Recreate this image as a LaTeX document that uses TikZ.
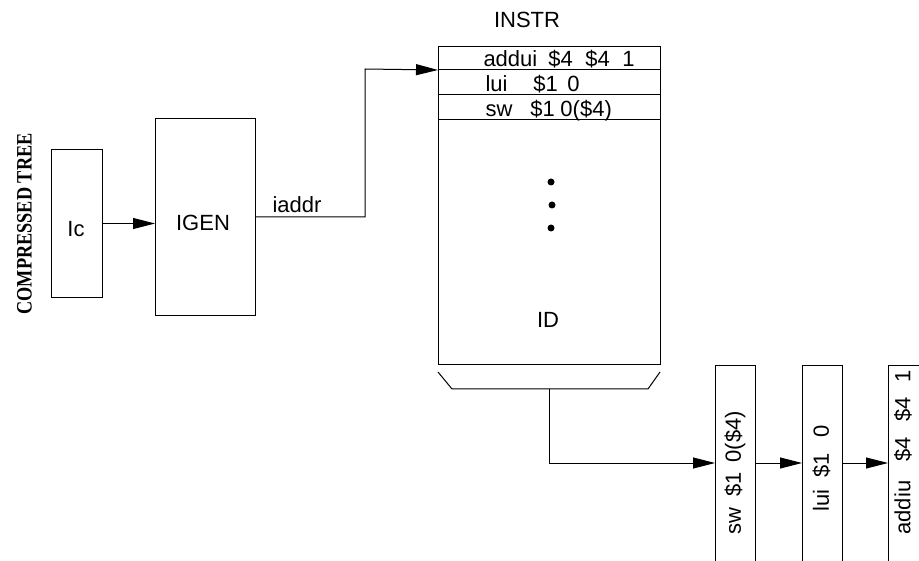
\documentclass[tikz,border=0pt]{standalone}
\usepackage{fontspec}
\setmainfont{Liberation Sans}
\newfontfamily\treefont{Liberation Serif}
\usepackage{graphicx}
\usetikzlibrary{positioning,arrows.meta}

\begin{document}
\begin{tikzpicture}[
  x=1pt, y=-1pt,
  >={Triangle[length=22pt,width=11pt]},
  line width=1pt,
  font=\fontsize{22}{26}\selectfont,
  block/.style={draw, inner sep=0pt, anchor=north west},
  row/.style={draw, inner sep=0pt, minimum width=222pt, anchor=north west},
  cell/.style={inner sep=0pt, anchor=base west},
  slot/.style={draw, inner sep=0pt, minimum width=40pt, minimum height=260pt, anchor=north west},
  vtext/.style={rotate=90, inner sep=0pt, anchor=west},
  dot/.style={circle, fill, inner sep=0pt, minimum size=7pt},
]
\useasboundingbox (0,0) rectangle (919,561);
\clip (0,0) rectangle (919,561);

% side title
\node[rotate=90, font=\treefont\bfseries\fontsize{22}{26}\selectfont] (tree) at (24.5,224)
  {\scalebox{0.83}[1]{COMPRESSED TREE}};

% generator blocks
\node[block, minimum width=51pt, minimum height=148pt] (ic) at (51,149) {};
\node (iclbl) at (76,229) {Ic};
\node[block, minimum width=100pt, minimum height=197pt] (igen) at (155,118) {};
\node (igenlbl) at (203,223) {IGEN};

% instruction memory
\node (instrlbl) at (527,20) {INSTR};
\node[block, minimum width=222pt, minimum height=318pt] (instr) at (438,46) {};
\node[row, minimum height=23pt] (r1) at (438,46) {};
\node[row, minimum height=25pt] (r2) at (438,69) {};
\node[row, minimum height=25pt] (r3) at (438,94) {};
\node[cell] (t1) at (483,67) {\makebox[65pt][l]{addui}\makebox[37pt][l]{\$4}\makebox[37pt][l]{\$4}1};
\node[cell] (t2) at (485,92) {\makebox[48pt][l]{lui}\makebox[34pt][l]{\$1}0};
\node[cell] (t3) at (485,117) {\makebox[45pt][l]{sw}\makebox[30pt][l]{\$1}0(\$4)};
\node[dot] (d1) at (551,182) {};
\node[dot] (d2) at (552,205) {};
\node[dot] (d3) at (551,228) {};
\node (idlbl) at (548,320) {ID};

% output mux
\draw (438,372) -- (452,389) -- (648,389) -- (660,372);
\coordinate (mux) at (549,389);
\coordinate (lane) at (0,463);

% instruction stream
\node[slot] (b1) at (715,365) {};
\node[slot] (b2) at (802,365) {};
\node[slot] (b3) at (888,365) {};
\node[vtext] (v1) at (735,535) {\makebox[38pt][l]{sw}\makebox[34pt][l]{\$1}0(\$4)};
\node[vtext] (v2) at (821.5,512) {\makebox[34pt][l]{lui}\makebox[40pt][l]{\$1}0};
\node[vtext] (v3) at (903,535) {\makebox[73pt][l]{addiu}\makebox[40pt][l]{\$4}\makebox[39pt][l]{\$4}1};

% connections
\coordinate (bend) at (365,69);
\node (iaddr) at (297,205) {iaddr};
\draw[->] (ic.east) -- (ic.east -| igen.west);
\draw[->] (igen.east) -- (igen.east -| bend) -- (bend) -- (r1.south west);
\draw[->] (mux) -- (mux |- lane) -- (b1.west |- lane);
\draw[->] (b1.east |- lane) -- (b2.west |- lane);
\draw[->] (b2.east |- lane) -- (b3.west |- lane);
\end{tikzpicture}
\end{document}
